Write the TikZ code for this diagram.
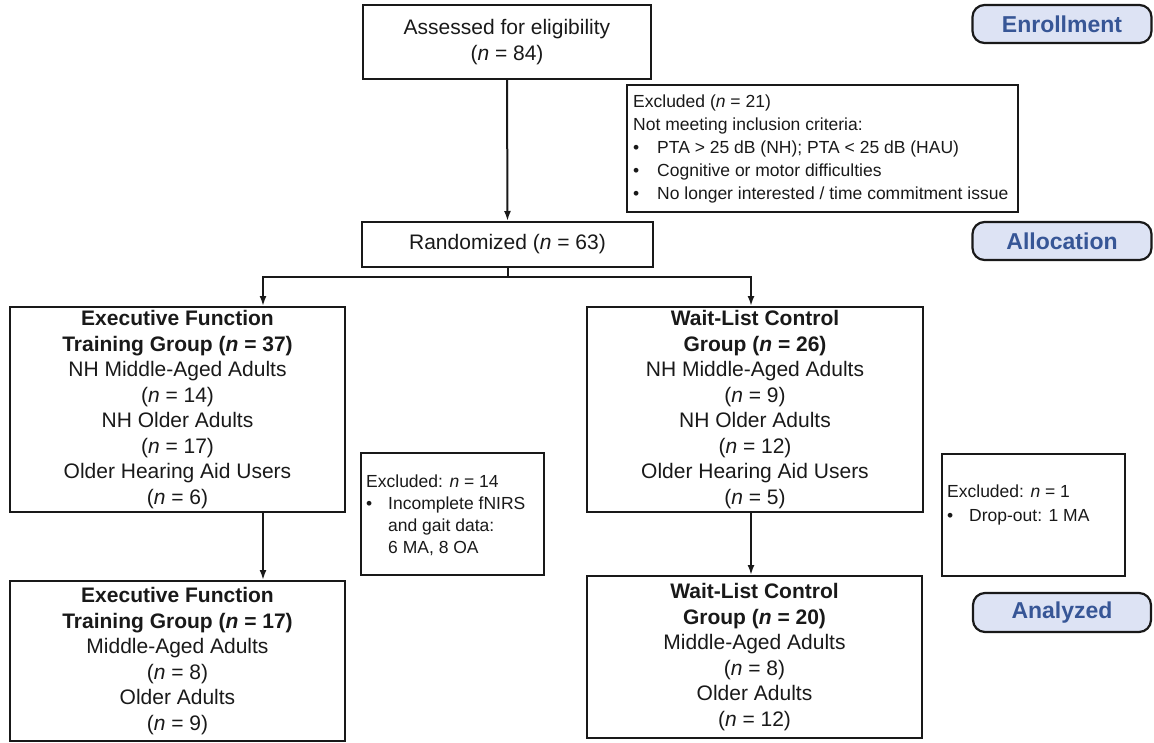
\documentclass[tikz,border=0pt]{standalone}
\usepackage{fontspec}
\setmainfont{Liberation Sans}
\usetikzlibrary{arrows.meta}
\definecolor{pillfill}{RGB}{221,227,244}
\definecolor{pilltext}{RGB}{55,86,150}
\definecolor{ink}{RGB}{25,25,25}
\begin{document}
\begin{tikzpicture}[x=1pt,y=-1pt,
  box/.style={draw=ink, line width=2pt, inner sep=0pt, text=ink},
  maintext/.style={font=\fontsize{21}{25.5}\selectfont, align=center},
  smalltext/.style={font=\fontsize{17.5}{21}\selectfont, align=left, anchor=west, inner sep=0pt, text=ink},
  pill/.style={draw=ink, fill=pillfill, line width=2.2pt, rounded corners=12pt,
    text=pilltext, font=\fontsize{23}{27}\selectfont\bfseries, inner sep=0pt},
  flow/.style={draw=ink, line width=2pt, -{Latex[length=10pt,width=7pt]}},
]
\useasboundingbox (0,0) rectangle (1154,742);

% stage labels
\node[pill, minimum width=179, minimum height=38] (enroll) at (1062,24) {Enrollment};
\node[pill, minimum width=179, minimum height=38] (alloc) at (1062,241) {Allocation};
\node[pill, minimum width=178, minimum height=39] (analyze) at (1062,612.5) {Analyzed};

% enrollment
\node[box, maintext, minimum width=288, minimum height=74] (assess) at (507,42)
  {Assessed for eligibility\\(\textit{n} = 84)};

\node[box, minimum width=391, minimum height=127] (exA) at (822.5,148.5) {};
\node[smalltext, font=\fontsize{17.5}{23}\selectfont] (exAtext) at (633,148.5)
  {Excluded (\textit{n} = 21)\\
   Not meeting inclusion criteria:\\
   \makebox[24pt][l]{\textbullet}PTA > 25 dB (NH); PTA < 25 dB (HAU)\\
   \makebox[24pt][l]{\textbullet}Cognitive or motor difficulties\\
   \makebox[24pt][l]{\textbullet}No longer interested / time commitment issue};

\node[box, maintext, minimum width=291, minimum height=45] (rand) at (507.5,244.5)
  {Randomized (\textit{n} = 63)};

% allocation
\node[box, maintext, minimum width=335, minimum height=205] (grpL) at (177.5,409.5)
  {\textbf{Executive Function}\\
   \textbf{Training Group (\textit{n} = 37)}\\
   NH Middle-Aged Adults\\(\textit{n} = 14)\\
   NH Older Adults\\(\textit{n} = 17)\\
   Older Hearing Aid Users\\(\textit{n} = 6)};

\node[box, maintext, minimum width=336, minimum height=205] (grpR) at (755,409.5)
  {\textbf{Wait-List Control}\\
   \textbf{Group (\textit{n} = 26)}\\
   NH Middle-Aged Adults\\(\textit{n} = 9)\\
   NH Older Adults\\(\textit{n} = 12)\\
   Older Hearing Aid Users\\(\textit{n} = 5)};

\node[box, minimum width=183, minimum height=122] (exB) at (452.5,514) {};
\node[smalltext, font=\fontsize{17.5}{22}\selectfont] (exBtext) at (366,515)
  {Excluded: \textit{n} = 14\\
   \makebox[22pt][l]{\textbullet}Incomplete fNIRS\\
   \hspace*{22pt}and gait data:\\
   \hspace*{22pt}6 MA, 8 OA};

\node[box, minimum width=183, minimum height=122] (exC) at (1033.5,515) {};
\node[smalltext, font=\fontsize{17.5}{24}\selectfont] (exCtext) at (947,505)
  {Excluded: \textit{n} = 1\\
   \makebox[22pt][l]{\textbullet}Drop-out: 1 MA};

% analysis
\node[box, maintext, minimum width=335, minimum height=160] (trainL) at (177.5,661)
  {\textbf{Executive Function}\\
   \textbf{Training Group (\textit{n} = 17)}\\
   Middle-Aged Adults\\(\textit{n} = 8)\\
   Older Adults\\(\textit{n} = 9)};

\node[box, maintext, minimum width=335, minimum height=162] (ctrlR) at (754.5,657)
  {\textbf{Wait-List Control}\\
   \textbf{Group (\textit{n} = 20)}\\
   Middle-Aged Adults\\(\textit{n} = 8)\\
   Older Adults\\(\textit{n} = 12)};

% connectors
\coordinate (brL) at (263,277);
\coordinate (brR) at (751,277);
\draw[flow] (assess.south) -- (rand.north);
\draw[flow] (rand.south) |- (brL) -- (brL |- grpL.north);
\draw[flow] (rand.south) |- (brR) -- (brR |- grpR.north);
\draw[flow] (brL |- grpL.south) -- (brL |- trainL.north);
\draw[flow] (brR |- grpR.south) -- (brR |- ctrlR.north);
\end{tikzpicture}
\end{document}
